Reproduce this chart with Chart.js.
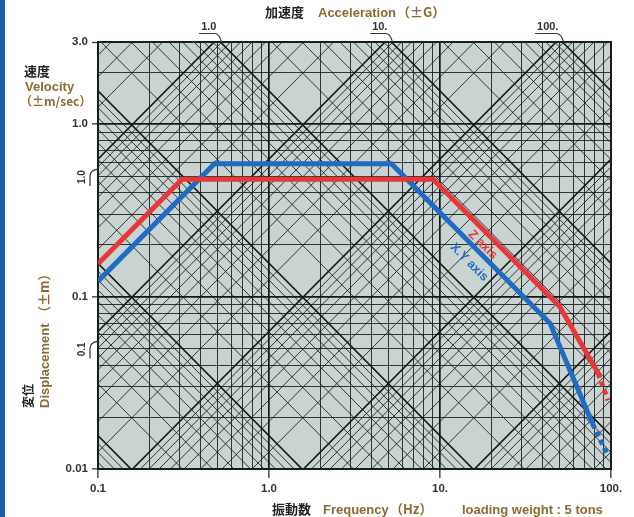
<!DOCTYPE html>
<html>
<head>
<meta charset="utf-8">
<script src="https://cdn.jsdelivr.net/npm/chart.js@4/dist/chart.umd.min.js"></script>
<style>
html, body { margin: 0; padding: 0; background: #fff; }
#wrap { position: relative; width: 634px; height: 517px; }
#wrap canvas { position: absolute; left: 0; top: 0; }
#bar { position: absolute; left: 0; top: 0; width: 5px; height: 517px; background: #1c5ea8; }
</style>
</head>
<body>
<div id="wrap"><canvas id="chart" width="634" height="517"></canvas><div id="bar"></div></div>
<script>
// corner points of the two performance curves, frequency (Hz) / velocity (m/s)
const freqZ  = [0.1, 0.31, 9.1, 50, 84, 96];
const velZ   = [0.155, 0.48, 0.48, 0.088, 0.036, 0.025];
const freqXY = [0.1, 0.48, 5.2, 44, 78, 96];
const velXY  = [0.123, 0.59, 0.59, 0.07, 0.0183, 0.0119];

// axis ticks
const xTicks = [0.1, 1, 10, 100];
const xTickLabels = ['0.1', '1.0', '10.', '100.'];
const yTicks = [0.01, 0.1, 1, 3];
const yTickLabels = ['0.01', '0.1', '1.0', '3.0'];

// labelled diagonals: displacement (±m) and acceleration (±G)
const dispLabelValues = [1, 0.1];
const dispLabelText = ['1.0', '0.1'];
const accLabelValues = [1, 10, 100];
const accLabelText = ['1.0', '10.', '100.'];

// curve name labels, placed at frequency / velocity
const curveNames = ['Z axis', 'X.Y axis'];
const curveNameFreq = [17.8, 14.8];
const curveNameVel = [0.2, 0.158];

const G = 9.8;
const steps = [1, 2, 3, 4, 5, 6, 7, 8, 9];
const RED = '#e5383b';
const BLUE = '#1f6cc0';
const BROWN = '#8c6a30';
const MINOR = 'rgba(22,26,26,0.85)';
const MAJOR = '#151818';

function logSeries(lo, hi) {
  const out = [];
  for (let k = -3; k <= 3; k++) {
    for (const s of steps) {
      const v = +(s * Math.pow(10, k)).toPrecision(6);
      if (v >= lo - 1e-9 && v <= hi + 1e-9) out.push(v);
    }
  }
  return out;
}
const xGrid = logSeries(0.1, 100);
const yGrid = logSeries(0.01, 3);

const isDecade = v => Math.abs(Math.log10(v) - Math.round(Math.log10(v))) < 1e-6;
const near = (a, b) => Math.abs(a - b) < 1e-9 * Math.max(1, b);

function points(fs, vs) {
  return fs.map((f, i) => ({ x: f, y: vs[i] }));
}
function dashLast(n) {
  return ctx => (ctx.p0DataIndex === n - 2 ? [5, 4] : undefined);
}

const paper = {
  id: 'paper',
  beforeDraw(chart) {
    const { ctx, chartArea: a } = chart;
    ctx.save();
    ctx.fillStyle = '#c9d3d2';
    ctx.fillRect(a.left, a.top, a.right - a.left, a.bottom - a.top);
    ctx.restore();
  },
  beforeDatasetsDraw(chart) {
    const { ctx, chartArea: a, scales: { x, y } } = chart;
    const f0 = 0.01, f1 = 1000;
    ctx.save();
    ctx.beginPath();
    ctx.rect(a.left, a.top, a.right - a.left, a.bottom - a.top);
    ctx.clip();
    const seg = (v0, v1, heavy) => {
      ctx.beginPath();
      ctx.moveTo(x.getPixelForValue(f0), y.getPixelForValue(v0));
      ctx.lineTo(x.getPixelForValue(f1), y.getPixelForValue(v1));
      ctx.lineWidth = heavy ? 1.6 : 1;
      ctx.strokeStyle = heavy ? MAJOR : MINOR;
      ctx.stroke();
    };
    // constant displacement: v = 2*pi*f*d
    for (let k = -6; k <= 1; k++) {
      for (const s of steps) {
        const d = s * Math.pow(10, k);
        seg(2 * Math.PI * f0 * d, 2 * Math.PI * f1 * d, s === 1);
      }
    }
    // constant acceleration: v = a*g / (2*pi*f)
    for (let k = -4; k <= 3; k++) {
      for (const s of steps) {
        const acc = s * Math.pow(10, k) * G;
        seg(acc / (2 * Math.PI * f0), acc / (2 * Math.PI * f1), s === 1);
      }
    }
    ctx.restore();
    ctx.save();
    ctx.lineWidth = 2;
    ctx.strokeStyle = '#1a1d1d';
    ctx.strokeRect(a.left, a.top, a.right - a.left, a.bottom - a.top);
    ctx.restore();
  },
  afterDraw(chart) {
    const { ctx, chartArea: a, scales: { x, y } } = chart;
    const jp = '"Noto Sans CJK JP"';
    const lat = '"Liberation Sans", Arial';
    ctx.save();
    ctx.textBaseline = 'alphabetic';

    // acceleration labels along the top edge
    ctx.font = 'bold 11px ' + lat;
    ctx.fillStyle = '#333';
    ctx.strokeStyle = '#333';
    ctx.lineWidth = 1.2;
    accLabelValues.forEach((acc, i) => {
      const px = x.getPixelForValue(acc * G / (2 * Math.PI * y.max));
      const w = ctx.measureText(accLabelText[i]).width;
      ctx.textAlign = 'right';
      ctx.fillText(accLabelText[i], px - 4, 30);
      ctx.beginPath();
      ctx.moveTo(px - 6 - w, 33.5);
      ctx.lineTo(px - 6, 33.5);
      ctx.quadraticCurveTo(px - 1, 33.5, px + 1, a.top);
      ctx.stroke();
    });

    // displacement labels on the left edge
    dispLabelValues.forEach((d, i) => {
      const py = y.getPixelForValue(2 * Math.PI * x.min * d);
      ctx.save();
      ctx.translate(85, py + 18);
      ctx.rotate(-Math.PI / 2);
      ctx.textAlign = 'center';
      ctx.font = 'bold 10px ' + lat;
      ctx.fillText(dispLabelText[i], 0, 0);
      ctx.restore();
      ctx.beginPath();
      ctx.moveTo(90, py + 27);
      ctx.lineTo(90, py + 17);
      ctx.quadraticCurveTo(90, py + 11, a.left, py + 10);
      ctx.stroke();
    });

    // axis titles
    ctx.textAlign = 'left';
    ctx.fillStyle = '#222';
    ctx.font = 'bold 13px ' + jp;
    ctx.fillText('加速度', 265, 17);
    ctx.fillStyle = BROWN;
    ctx.font = 'bold 13px ' + lat;
    ctx.fillText('Acceleration', 318, 17);
    ctx.font = 'bold 13px ' + jp;
    ctx.fillText('（±G）', 397, 17);

    ctx.fillStyle = '#222';
    ctx.font = 'bold 13px ' + jp;
    ctx.fillText('速度', 24, 76);
    ctx.fillStyle = BROWN;
    ctx.font = 'bold 13px ' + lat;
    ctx.fillText('Velocity', 25, 91);
    ctx.font = 'bold 12px ' + jp;
    ctx.fillText('（±m/sec）', 20, 106);

    ctx.save();
    ctx.translate(0, 408);
    ctx.rotate(-Math.PI / 2);
    ctx.fillStyle = '#222';
    ctx.font = 'bold 12px ' + jp;
    ctx.fillText('変位', 0, 33);
    ctx.fillStyle = BROWN;
    ctx.font = 'bold 13px ' + lat;
    ctx.fillText('Displacement', 0, 49);
    ctx.font = 'bold 13px ' + jp;
    ctx.fillText(' （±m）', 86, 49);
    ctx.restore();

    ctx.fillStyle = '#222';
    ctx.font = 'bold 13px ' + jp;
    ctx.fillText('振動数', 272, 514);
    ctx.fillStyle = BROWN;
    ctx.font = 'bold 13px ' + lat;
    ctx.fillText('Frequency', 323, 514);
    ctx.font = 'bold 13px ' + jp;
    ctx.fillText('（Hz）', 390, 514);
    ctx.font = 'bold 13px ' + lat;
    ctx.fillText('loading weight : 5 tons', 462, 514);

    // curve names along the falling slope
    ctx.font = 'bold 12.5px ' + lat;
    ctx.textAlign = 'center';
    ctx.textBaseline = 'middle';
    [RED, BLUE].forEach((col, i) => {
      ctx.save();
      ctx.translate(x.getPixelForValue(curveNameFreq[i]), y.getPixelForValue(curveNameVel[i]));
      ctx.rotate(Math.PI / 4);
      ctx.fillStyle = col;
      ctx.fillText(curveNames[i], 0, 0);
      ctx.restore();
    });
    ctx.restore();
  }
};

const gridOpts = (labelled) => ({
  color: c => (c.tick && isDecade(c.tick.value) ? MAJOR : MINOR),
  lineWidth: c => (c.tick && isDecade(c.tick.value) ? 1.7 : 1),
  tickColor: c => (c.tick && labelled.some(v => near(c.tick.value, v)) ? '#333' : 'rgba(0,0,0,0)'),
  tickWidth: 1.3,
  drawTicks: true
});

new Chart(document.getElementById('chart'), {
  type: 'line',
  data: {
    datasets: [
      {
        label: 'Z axis',
        data: points(freqZ, velZ),
        borderColor: RED,
        borderWidth: 5,
        pointRadius: 0,
        segment: { borderDash: dashLast(freqZ.length) }
      },
      {
        label: 'X.Y axis',
        data: points(freqXY, velXY),
        borderColor: BLUE,
        borderWidth: 5,
        pointRadius: 0,
        segment: { borderDash: dashLast(freqXY.length) }
      }
    ]
  },
  options: {
    responsive: false,
    animation: false,
    layout: { padding: { top: 42, right: 23, left: 0, bottom: 0 } },
    plugins: { legend: { display: false }, tooltip: { enabled: false } },
    scales: {
      x: {
        type: 'logarithmic',
        min: 0.1,
        max: 100,
        afterBuildTicks: s => { s.ticks = xGrid.map(v => ({ value: v })); },
        afterFit: s => { s.height = 48; },
        grid: Object.assign(gridOpts(xTicks), { tickLength: 9 }),
        border: { display: true, color: '#1a1d1d', width: 2 },
        ticks: {
          autoSkip: false,
          maxRotation: 0,
          padding: 4,
          color: '#333',
          font: { family: '"Liberation Sans", Arial', size: 11.5, weight: 'bold' },
          callback: v => {
            const i = xTicks.findIndex(t => near(v, t));
            return i >= 0 ? xTickLabels[i] : '';
          }
        }
      },
      y: {
        type: 'logarithmic',
        min: 0.01,
        max: 3,
        afterBuildTicks: s => { s.ticks = yGrid.map(v => ({ value: v })); },
        afterFit: s => { s.width = 98; },
        grid: Object.assign(gridOpts(yTicks), { tickLength: 6 }),
        border: { display: true, color: '#1a1d1d', width: 2 },
        ticks: {
          autoSkip: false,
          padding: 4,
          color: '#333',
          font: { family: '"Liberation Sans", Arial', size: 11.5, weight: 'bold' },
          callback: v => {
            const i = yTicks.findIndex(t => near(v, t));
            return i >= 0 ? yTickLabels[i] : '';
          }
        }
      }
    }
  },
  plugins: [paper]
});
</script>
</body>
</html>
